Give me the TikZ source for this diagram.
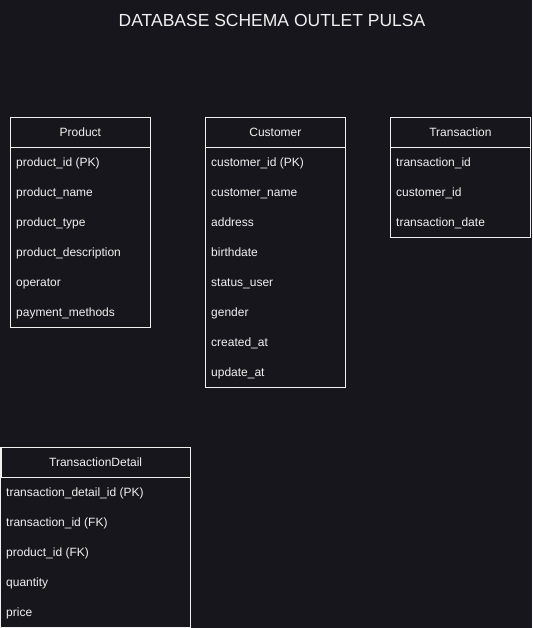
\documentclass[tikz,border=0pt]{standalone}
\usepackage{fontspec}
\setmainfont{Liberation Sans}
\definecolor{bg}{HTML}{18161D}
\definecolor{fg}{HTML}{F0F0F0}
\begin{document}
\begin{tikzpicture}[x=1pt,y=-1pt,
  hdr/.style={draw=fg,line width=0.8pt,fill=bg,minimum height=30pt,inner sep=0pt,font=\fontsize{12}{14}\selectfont,text=fg},
  row/.style={anchor=base west,inner sep=0pt,font=\fontsize{12}{14}\selectfont,text=fg},
  frame/.style={draw=fg,line width=0.8pt}]
\useasboundingbox[fill=bg] (0,0) rectangle (532,628);
\node[text=fg,font=\fontsize{17.5}{20}\selectfont] (title) at (272,20) {DATABASE SCHEMA OUTLET PULSA};
% Product
\draw[frame] (10,117) rectangle (150,327);
\node[hdr,minimum width=140pt,anchor=north west] (ph) at (10,117) {Product};
\foreach \t [count=\i] in {product\_id (PK),product\_name,product\_type,product\_description,operator,payment\_methods}
  \node[row] (p\i) at (16,{147+30*\i-10.5}) {\t};
% Customer
\draw[frame] (205,117) rectangle (345,387);
\node[hdr,minimum width=140pt,anchor=north west] (ch) at (205,117) {Customer};
\foreach \t [count=\i] in {customer\_id (PK),customer\_name,address,birthdate,status\_user,gender,created\_at,update\_at}
  \node[row] (c\i) at (211,{147+30*\i-10.5}) {\t};
% Transaction
\draw[frame] (390,117) rectangle (530,237);
\node[hdr,minimum width=140pt,anchor=north west] (th) at (390,117) {Transaction};
\foreach \t [count=\i] in {transaction\_id,customer\_id,transaction\_date}
  \node[row] (t\i) at (396,{147+30*\i-10.5}) {\t};
% TransactionDetail
\draw[frame] (0.5,447) rectangle (190,627.5);
\node[hdr,minimum width=189.5pt,anchor=north west] (dh) at (0.5,447) {TransactionDetail};
\foreach \t [count=\i] in {transaction\_detail\_id (PK),transaction\_id (FK),product\_id (FK),quantity,price}
  \node[row] (d\i) at (6,{477+30*\i-10.5}) {\t};
\end{tikzpicture}
\end{document}
